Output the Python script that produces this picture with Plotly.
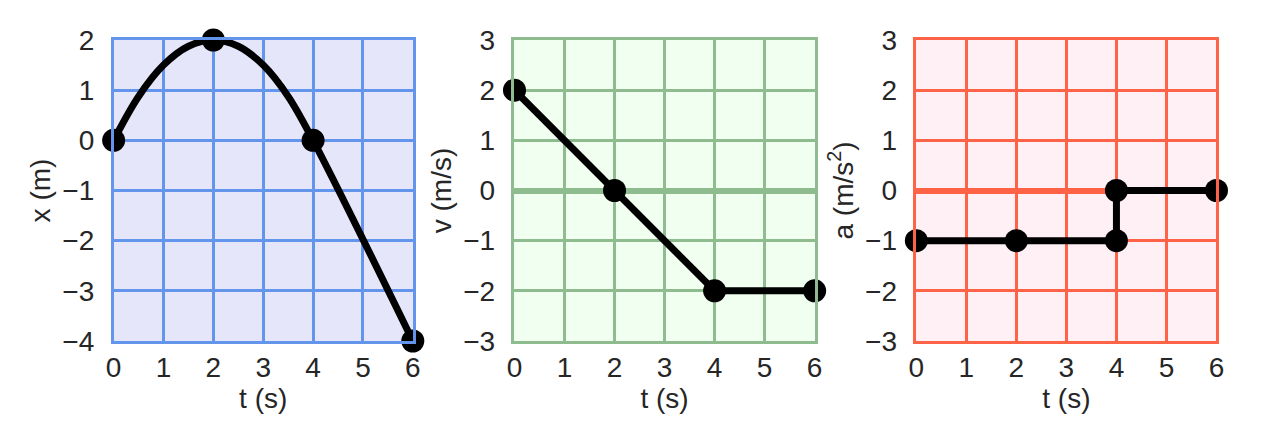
import plotly.graph_objects as go

# Data
t_pos_curve = [0, 0.5, 1, 1.5, 2, 2.5, 3, 3.5, 4, 6]
x_pos_curve = [0, 0.875, 1.5, 1.875, 2, 1.875, 1.5, 0.875, 0, -4]
t_pos_pts = [0, 2, 4, 6]
x_pos_pts = [0, 2, 0, -4]

t_vel = [0, 2, 4, 6]
v_vel = [2, 0, -2, -2]

t_acc_line = [0, 2, 4, 4, 6]
a_acc_line = [-1, -1, -1, 0, 0]
t_acc_pts = [0, 2, 4, 4, 6]
a_acc_pts = [-1, -1, -1, 0, 0]

x_ticks = [0, 1, 2, 3, 4, 5, 6]
pos_ticks = [-4, -3, -2, -1, 0, 1, 2]
va_ticks = [-3, -2, -1, 0, 1, 2, 3]

W, H = 1262, 443
FONT = "Liberation Sans, Arial, sans-serif"
TXT = "#262626"
FS = 28

panels = [
    dict(px0=107, px1=410, grid="#6495ED", bg="#E6E6FA", yr=[-4, 2], yt=pos_ticks,
         ytitle="x (m)", zero=False),
    dict(px0=513, px1=817, grid="#8FBC8F", bg="#F0FFF0", yr=[-3, 3], yt=va_ticks,
         ytitle="v (m/s)", zero=True),
    dict(px0=920, px1=1224, grid="#FF6347", bg="#FFF0F5", yr=[-3, 3], yt=va_ticks,
         ytitle="a (m/s<sup>2</sup>)", zero=True),
]

fig = go.Figure()
layout = dict(width=W, height=H, margin=dict(l=0, r=0, t=40, b=102),
              paper_bgcolor="white", showlegend=False,
              font=dict(family=FONT, size=FS, color=TXT))
shapes = []
for i, p in enumerate(panels):
    k = "" if i == 0 else str(i + 1)
    xa = dict(domain=[p["px0"] / W, p["px1"] / W], range=[0, 6], tickvals=x_ticks,
              showgrid=True, gridcolor=p["grid"], gridwidth=2.5, zeroline=False,
              showline=True, mirror=True, linecolor=p["grid"], linewidth=2.5,
              ticks="", tickfont=dict(size=FS, color=TXT),
              title=dict(text="t (s)", font=dict(size=FS, color=TXT), standoff=0),
              anchor="y" + k, fixedrange=True)
    ya = dict(domain=[0, 1], range=p["yr"], tickvals=p["yt"],
              showgrid=True, gridcolor=p["grid"], gridwidth=2.5,
              zeroline=p["zero"], zerolinecolor=p["grid"], zerolinewidth=6,
              showline=True, mirror=True, linecolor=p["grid"], linewidth=2.5,
              ticks="outside", ticklen=11, tickcolor="rgba(0,0,0,0)",
              tickfont=dict(size=FS, color=TXT),
              title=dict(text=p["ytitle"], font=dict(size=FS, color=TXT), standoff=4),
              anchor="x" + k, fixedrange=True)
    layout["xaxis" + k] = xa
    layout["yaxis" + k] = ya
    shapes.append(dict(type="rect", xref="x" + k + " domain", yref="y" + k + " domain",
                       x0=0, x1=1, y0=0, y1=1, fillcolor=p["bg"], line=dict(width=0),
                       layer="below"))
layout["shapes"] = shapes

line_style = dict(color="black", width=7)
mk = dict(color="black", size=23)

fig.add_trace(go.Scatter(x=t_pos_curve, y=x_pos_curve, mode="lines", line=dict(shape="spline", **line_style),
                         cliponaxis=False, xaxis="x", yaxis="y"))
fig.add_trace(go.Scatter(x=t_pos_pts, y=x_pos_pts, mode="markers", marker=mk,
                         cliponaxis=False, xaxis="x", yaxis="y"))
fig.add_trace(go.Scatter(x=t_vel, y=v_vel, mode="lines+markers", line=line_style, marker=mk,
                         cliponaxis=False, xaxis="x2", yaxis="y2"))
fig.add_trace(go.Scatter(x=t_acc_line, y=a_acc_line, mode="lines", line=line_style,
                         cliponaxis=False, xaxis="x3", yaxis="y3"))
fig.add_trace(go.Scatter(x=t_acc_pts, y=a_acc_pts, mode="markers", marker=mk,
                         cliponaxis=False, xaxis="x3", yaxis="y3"))

fig.update_layout(**layout)
fig.write_html("out.html", config={"displayModeBar": False},
               post_script="document.body.style.margin='0';")
